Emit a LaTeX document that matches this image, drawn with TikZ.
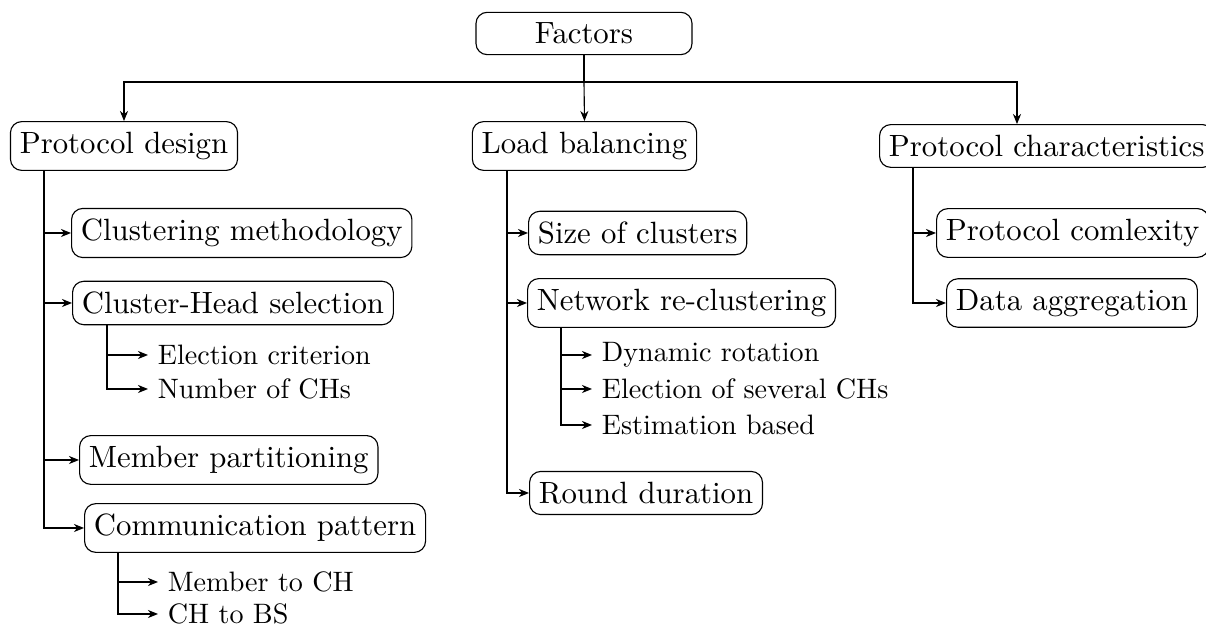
\documentclass[tikz,border=0pt]{standalone}
\usepackage{fontspec}
\usetikzlibrary{arrows.meta}
\begin{document}
\begin{tikzpicture}[x=0.3559pt,y=-0.3559pt,
  box/.style={draw, rounded corners=4pt, inner xsep=3.33pt, inner ysep=3.75pt, font=\fontsize{10.95}{13}\selectfont, line width=0.4pt},
  leaf/.style={inner sep=3.33pt, font=\fontsize{10}{12}\selectfont, anchor=west},
  conn/.style={-{Stealth[length=3.6pt,width=2.9pt]}, line width=0.4pt},
  plain/.style={line width=0.4pt}]
\useasboundingbox (0,0) rectangle (1206,625);

% top level
\node[box, minimum width=76.9pt] (F) at (584,33.5) {Factors};
\node[box] (PD) at (124,146) {Protocol design};
\node[box] (LB) at (584.5,146) {Load balancing};
\node[box, anchor=west] (PC) at (879,146) {Protocol characteristics};

% protocol design children
\node[box, anchor=west] (CM) at (71,233) {Clustering methodology};
\node[box, anchor=west] (CH) at (72,303) {Cluster-Head selection};
\node[leaf] (EC) at (148,355) {Election criterion};
\node[leaf] (NC) at (148,389) {Number of CHs};
\node[box, anchor=west] (MP) at (79,460) {Member partitioning};
\node[box, anchor=west] (CP) at (84,528) {Communication pattern};
\node[leaf] (MCH) at (158,582) {Member to CH};
\node[leaf] (CBS) at (158,614) {CH to BS};

% load balancing children
\node[box, anchor=west] (SC) at (528,233) {Size of clusters};
\node[box, anchor=west] (NR) at (527,303) {Network re-clustering};
\node[leaf] (DR) at (592,355) {Dynamic rotation};
\node[leaf] (ES) at (592,389) {Election of several CHs};
\node[leaf] (EB) at (592,425) {Estimation based};
\node[box, anchor=west] (RD) at (529,493) {Round duration};

% protocol characteristics children
\node[box, anchor=west] (PX) at (936,233) {Protocol comlexity};
\node[box, anchor=west] (DA) at (946,303) {Data aggregation};

% coordinates
\coordinate (bus) at (584,82);
\coordinate (busL) at (382,82);
\coordinate (pcx) at (1017,0);
\coordinate (pdx) at (44,0);
\coordinate (chx) at (107,0);
\coordinate (cpx) at (118,0);
\coordinate (lbx) at (507,0);
\coordinate (nrx) at (561,0);
\coordinate (pcv) at (913,0);

% top connectors
\draw[plain] (F.south) -- (bus);
\draw[conn] (bus) -| (PD.north);
\draw[line width=0.7pt] (bus) -- (busL);
\draw[conn] (bus) -- (LB.north);
\draw[conn] (bus) -| (PC.north -| pcx);

% protocol design
\draw[conn] (PD.south -| pdx) |- (CP.west);
\draw[conn] (CM.west -| pdx) -- (CM.west);
\draw[conn] (CH.west -| pdx) -- (CH.west);
\draw[conn] (MP.west -| pdx) -- (MP.west);
\draw[conn] (CH.south -| chx) |- (NC.west);
\draw[conn] (EC.west -| chx) -- (EC.west);
\draw[conn] (CP.south -| cpx) |- (CBS.west);
\draw[conn] (MCH.west -| cpx) -- (MCH.west);

% load balancing
\draw[conn] (LB.south -| lbx) |- (RD.west);
\draw[conn] (SC.west -| lbx) -- (SC.west);
\draw[conn] (NR.west -| lbx) -- (NR.west);
\draw[conn] (NR.south -| nrx) |- (EB.west);
\draw[conn] (DR.west -| nrx) -- (DR.west);
\draw[conn] (ES.west -| nrx) -- (ES.west);

% protocol characteristics
\draw[conn] (PC.south -| pcv) |- (DA.west);
\draw[conn] (PX.west -| pcv) -- (PX.west);
\end{tikzpicture}
\end{document}
